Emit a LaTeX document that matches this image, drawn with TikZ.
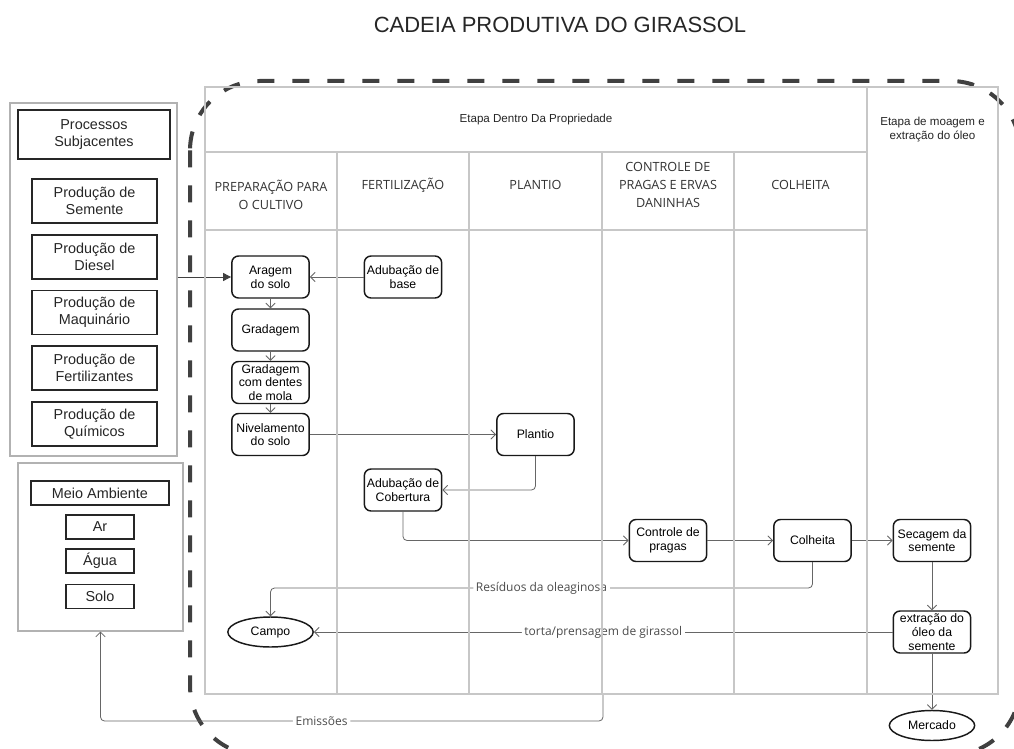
\documentclass[tikz,border=0pt]{standalone}
\usepackage{fontspec}
\setmainfont{Liberation Sans}
\newfontfamily\lanefont{Open Sans}
\usetikzlibrary{arrows.meta, shapes.geometric, calc}

\tikzset{
  procnode/.style={draw=black!90, line width=1.1pt, rounded corners=5pt, minimum width=58pt, minimum height=31.5pt, inner sep=1pt, align=center, font=\fontsize{9.2}{10.3}\selectfont},
  endnode/.style={ellipse, draw=black!90, line width=1.1pt, minimum width=64pt, minimum height=22.5pt, inner sep=0pt, font=\fontsize{9.2}{10.3}\selectfont},
  subbox/.style={draw=black!85, line width=1pt, align=center, minimum width=93.75pt, minimum height=33pt, inner sep=1pt, font=\fontsize{10.8}{12.5}\selectfont, text=black!85},
  envbox/.style={draw=black!85, line width=1pt, minimum width=51pt, minimum height=18pt, inner sep=0pt, font=\fontsize{10.8}{12.5}\selectfont, text=black!85},
  groupbox/.style={draw=black!30, line width=0.9pt, inner sep=0pt},
  flow/.style={draw=black!60, line width=0.6pt, rounded corners=3pt, -{Straight Barb[length=3.5pt,width=7pt]}},
  inarrow/.style={draw=black!75, line width=0.7pt, -{Triangle[length=6pt,width=6pt]}},
  edgelabel/.style={fill=white, inner sep=2pt, text=black!70, font=\lanefont\fontsize{9}{10}\selectfont},
  lanehead/.style={align=center, text=black!80, font=\lanefont\fontsize{9.5}{13.5}\selectfont},
  toprow/.style={align=center, text=black!85, font=\fontsize{8.7}{11}\selectfont},
  gridline/.style={draw=black!22, line width=0.8pt},
}

\begin{document}
\begin{tikzpicture}[x=0.75pt, y=-0.75pt]
  \clip (0,0) rectangle (1014,749);
  \fill[white] (0,0) rectangle (1014,749);

  \node[font=\fontsize{16.5}{18}\selectfont, text=black!85] (title) at (560,25) {CADEIA PRODUTIVA DO GIRASSOL};

  % dashed frame round the property and milling stages
  \draw[black!75, line width=3pt, dash pattern=on 12.75pt off 13.5pt, rounded corners=52pt] (190,81) rectangle (1020,755);

  % underlying processes
  \node[groupbox, minimum width=125.25pt, minimum height=264.75pt] (subjac) at (93.5,279.5) {};
  \node[subbox, minimum width=114pt, minimum height=36.75pt] (procsub) at (94,134.5) {Processos\\Subjacentes};
  \node[subbox] (psemente) at (94.5,201) {Produção de\\Semente};
  \node[subbox] (pdiesel) at (94.5,257) {Produção de\\Diesel};
  \node[subbox] (pmaquina) at (94.5,312.5) {Produção de\\Maquinário};
  \node[subbox] (pfertil) at (94.5,368) {Produção de\\Fertilizantes};
  \node[subbox] (pquimic) at (94.5,424) {Produção de\\Químicos};

  % environment
  \node[groupbox, minimum width=123.75pt, minimum height=126pt] (ambiente) at (100.5,547) {};
  \node[envbox, minimum width=103.5pt] (meio) at (100,493) {Meio Ambiente};
  \node[envbox] (ar) at (100,527) {Ar};
  \node[envbox] (agua) at (100,561) {Água};
  \node[envbox] (solo) at (100,596.5) {Solo};

  % process steps
  \node[procnode] (aragem) at (270.5,277) {Aragem\\do solo};
  \node[procnode] (adubbase) at (403,277) {Adubação de\\base};
  \node[procnode] (gradagem) at (270.5,330) {Gradagem};
  \node[procnode] (gradmola) at (270.5,382.5) {Gradagem\\com dentes\\de mola};
  \node[procnode] (nivel) at (270.5,434.5) {Nivelamento\\do solo};
  \node[procnode] (plantio) at (535.5,434.5) {Plantio};
  \node[procnode] (adubcob) at (403,490) {Adubação de\\Cobertura};
  \node[procnode] (controle) at (668,540.5) {Controle de\\pragas};
  \node[procnode] (colheita) at (812.5,540.5) {Colheita};
  \node[procnode] (secagem) at (932,540.5) {Secagem da\\semente};
  \node[procnode] (extracao) at (932,632) {extração do\\óleo da\\semente};
  \node[endnode] (mercado) at (932,725.5) {Mercado};
  \node[endnode] (campo) at (270.5,632) {Campo};

  % connectors
  \draw[inarrow] (subjac.east |- aragem.west) -- (aragem.west);
  \draw[flow] (adubbase) -- (aragem);
  \draw[flow] (aragem) -- (gradagem);
  \draw[flow] (gradagem) -- (gradmola);
  \draw[flow] (gradmola) -- (nivel);
  \draw[flow] (nivel) -- (plantio);
  \draw[flow] (plantio.south) |- (adubcob.east);
  \draw[flow] (adubcob.south) |- (controle.west);
  \draw[flow] (controle) -- (colheita);
  \draw[flow] (colheita) -- (secagem);
  \draw[flow] (secagem) -- (extracao);
  \draw[flow] (extracao) -- (mercado);

  \coordinate (residuos) at (270.5,588);
  \draw[flow] (colheita.south) |- node[edgelabel, pos=0.75] {Resíduos da oleaginosa} (residuos) -- (campo.north);
  \draw[flow] (extracao) -- node[edgelabel] {torta/prensagem de girassol} (campo);

  \coordinate (emisstop) at (603,694);
  \coordinate (emissbot) at (603,721);
  \draw[flow] (emisstop) -- (emissbot) -| node[edgelabel, pos=0.28] {Emissões} (ambiente.south);

  % swimlane table
  \draw[gridline] (205,87) rectangle (867,694);
  \draw[gridline] (867,87) rectangle (998,694);
  \draw[gridline] (205,152) -- (867,152);
  \draw[gridline] (205,230) -- (867,230);
  \foreach \x in {337,469,602,734}
    \draw[gridline] (\x,152) -- (\x,694);

  \node[toprow] (etapaprop) at (536,120) {Etapa Dentro Da Propriedade};
  \node[toprow] (etapamoag) at (932.5,129.5) {Etapa de moagem e\\extração do óleo};
  \node[lanehead] (hprep) at (271,194.5) {PREPARAÇÃO PARA\\O CULTIVO};
  \node[lanehead] (hfert) at (403,185) {FERTILIZAÇÃO};
  \node[lanehead] (hplant) at (535.5,185) {PLANTIO};
  \node[lanehead] (hcontr) at (668,185) {CONTROLE DE\\PRAGAS E ERVAS\\DANINHAS};
  \node[lanehead] (hcolh) at (800.5,185) {COLHEITA};
\end{tikzpicture}
\end{document}
